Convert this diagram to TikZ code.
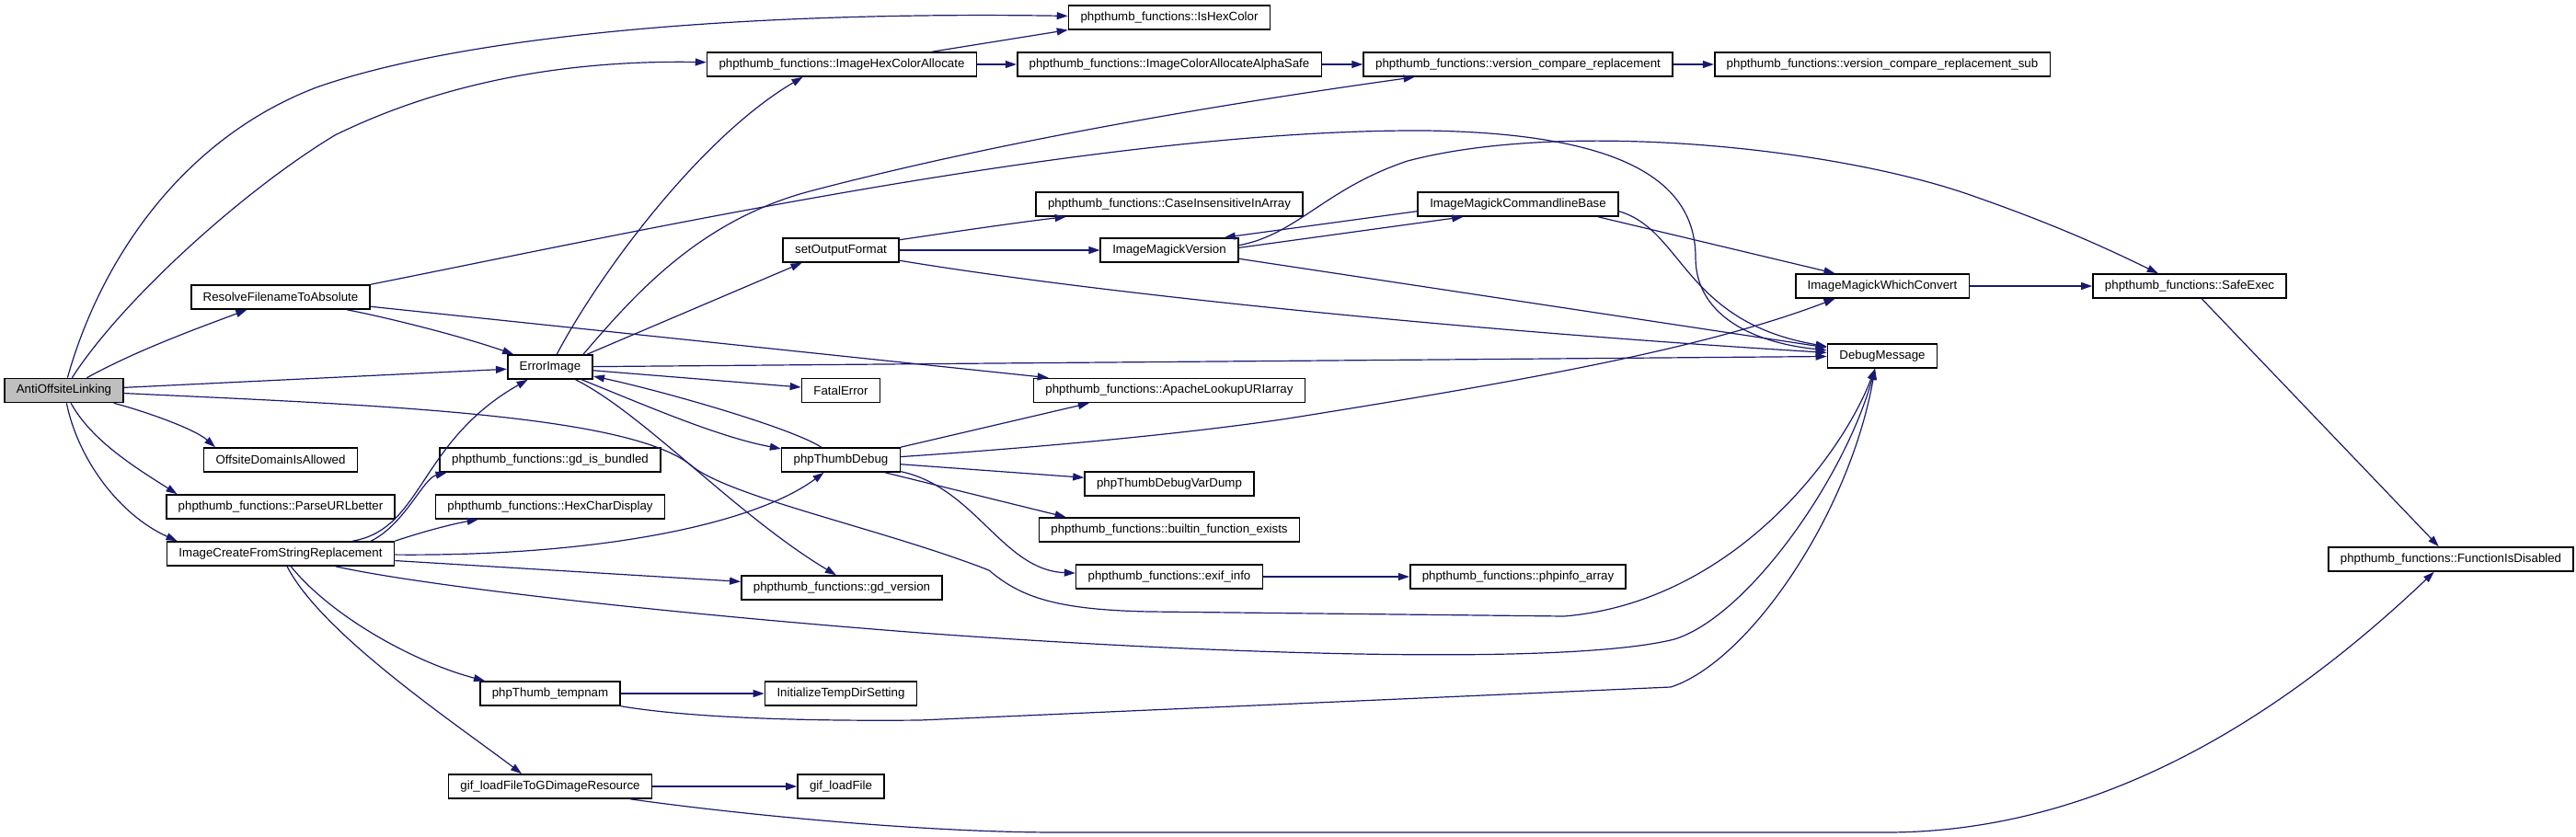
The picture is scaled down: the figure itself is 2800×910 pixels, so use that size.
\documentclass[tikz,border=0pt]{standalone}
\usepackage{fontspec}
\setmainfont{Liberation Sans}
\usepackage{tikz}
\usetikzlibrary{arrows.meta}
\definecolor{edgeblue}{HTML}{191970}
\definecolor{rootgray}{HTML}{BFBFBF}
\newcommand{\fnfont}{\fontsize{6.65pt}{8pt}\selectfont}
\tikzset{
  fn/.style   = {draw=black, line width=0.8pt, rectangle, fill=white,
                 minimum height=13pt, inner xsep=6.5pt, inner ysep=0pt, font=\fnfont},
  root/.style = {fn, fill=rootgray},
  call/.style = {-{Triangle[length=6pt,width=4pt]}, line width=0.6pt, draw=edgeblue, fill=none},
}
\begin{document}
\begin{tikzpicture}[x=0.5pt,y=-0.5pt]
\useasboundingbox (0,0) rectangle (2800,910);
% functions, one column per call depth
\node[root] (aol) at (69.5,424.5) {AntiOffsiteLinking};
\node[fn] (rfa) at (305,323) {ResolveFilenameToAbsolute};
\node[fn] (oda) at (305,500) {OffsiteDomainIsAllowed};
\node[fn] (pub) at (305,551) {phpthumb\_functions::ParseURLbetter};
\node[fn] (icf) at (305,602) {ImageCreateFromStringReplacement};
\node[fn] (err) at (598,399) {ErrorImage};
\node[fn] (gib) at (598,500) {phpthumb\_functions::gd\_is\_bundled};
\node[fn] (hcd) at (598,551) {phpthumb\_functions::HexCharDisplay};
\node[fn] (tmp) at (598,754) {phpThumb\_tempnam};
\node[fn] (gif) at (598,855) {gif\_loadFileToGDimageResource};
\node[fn] (hca) at (915,70) {phpthumb\_functions::ImageHexColorAllocate};
\node[fn] (sof) at (914,272) {setOutputFormat};
\node[fn] (fat) at (914,424.5) {FatalError};
\node[fn] (ptd) at (914,500) {phpThumbDebug};
\node[fn] (gdv) at (915,639) {phpthumb\_functions::gd\_version};
\node[fn] (itd) at (914,754) {InitializeTempDirSetting};
\node[fn] (glf) at (914,855) {gif\_loadFile};
\node[fn] (ihc) at (1271,19) {phpthumb\_functions::IsHexColor};
\node[fn] (cas) at (1271,70) {phpthumb\_functions::ImageColorAllocateAlphaSafe};
\node[fn] (cia) at (1271,222) {phpthumb\_functions::CaseInsensitiveInArray};
\node[fn] (imv) at (1271,272) {ImageMagickVersion};
\node[fn] (alu) at (1271,424.5) {phpthumb\_functions::ApacheLookupURIarray};
\node[fn] (vdd) at (1271,526) {phpThumbDebugVarDump};
\node[fn] (bfe) at (1271,576) {phpthumb\_functions::builtin\_function\_exists};
\node[fn] (exi) at (1271,627) {phpthumb\_functions::exif\_info};
\node[fn] (vcr) at (1650,70) {phpthumb\_functions::version\_compare\_replacement};
\node[fn] (clb) at (1650,222) {ImageMagickCommandlineBase};
\node[fn] (pia) at (1650,627) {phpthumb\_functions::phpinfo\_array};
\node[fn] (vcs) at (2046,70) {phpthumb\_functions::version\_compare\_replacement\_sub};
\node[fn] (wcv) at (2046,311) {ImageMagickWhichConvert};
\node[fn] (dbg) at (2046,387) {DebugMessage};
\node[fn] (sfe) at (2380,311) {phpthumb\_functions::SafeExec};
\node[fn] (fid) at (2664,608) {phpthumb\_functions::FunctionIsDisabled};
% calls from AntiOffsiteLinking
\draw[call] (aol) .. controls (110,280) and (200,150) .. (344,95) .. controls (500,40) and (800,12) .. (ihc);
\draw[call] (aol) .. controls (130,330) and (260,210) .. (364,147) .. controls (470,95) and (600,65) .. (hca);
\draw[call] (aol) .. controls (150,380) and (220,355) .. (rfa);
\draw[call] (aol) -- (err);
\draw[call] (aol) .. controls (400,440) and (680,450) .. (750,505) .. controls (790,540) and (960,575) .. (1075,620)
  .. controls (1110,650) and (1150,663) .. (1250,665) -- (1700,670) .. controls (1880,655) and (2000,500) .. (dbg.240);
\draw[call] (aol) .. controls (150,445) and (210,465) .. (oda.169);
\draw[call] (aol) .. controls (100,480) and (150,510) .. (pub.173);
\draw[call] (aol) .. controls (85,500) and (130,560) .. (icf.173);
% ResolveFilenameToAbsolute
\draw[call] (rfa) .. controls (420,345) and (500,365) .. (err);
\draw[call] (rfa) -- (alu);
\draw[call] (rfa.north east) .. controls (700,250) and (1200,140) .. (1550,142) .. controls (1750,145) and (1843,190) .. (1843,280)
  .. controls (1843,340) and (1900,372) .. (dbg);
% ErrorImage
\draw[call] (err) .. controls (650,300) and (760,150) .. (hca.198);
\draw[call] (err.19) -- (sof.198);
\draw[call] (err) -- (fat);
\draw[call] (err) -- (dbg);
\draw[call] (err) .. controls (700,440) and (780,475) .. (ptd);
\draw[call] (err) .. controls (700,450) and (800,560) .. (gdv.114);
\draw[call] (err.21) .. controls (690,320) and (760,240) .. (880,208) .. controls (1100,150) and (1350,110) .. (vcr.187);
\draw[call] (ptd) .. controls (860,465) and (720,425) .. (err);
% ImageCreateFromStringReplacement
\draw[call] (icf.10) .. controls (460,575) and (455,480) .. (err);
\draw[call] (icf.8) .. controls (440,570) and (460,520) .. (gib.187);
\draw[call] (icf.north east) .. controls (460,578) and (490,570) .. (hcd.190);
\draw[call] (icf) .. controls (650,605) and (820,570) .. (ptd);
\draw[call] (icf) -- (gdv);
\draw[call] (icf.-13) .. controls (450,635) and (700,665) .. (1000,688) .. controls (1300,710) and (1700,725) .. (1820,695)
  .. controls (1900,670) and (2005,520) .. (dbg.240);
\draw[call] (icf) .. controls (360,670) and (450,720) .. (tmp.169);
\draw[call] (icf) .. controls (350,690) and (500,790) .. (gif.156);
\draw[call] (tmp) -- (itd);
\draw[call] (tmp.south east) .. controls (760,782) and (900,784) .. (1000,783) -- (1816,747) .. controls (1900,720) and (2010,560) .. (dbg.240);
\draw[call] (gif) -- (glf);
\draw[call] (gif.-9) .. controls (800,885) and (1000,905) .. (1150,905) -- (2050,905) .. controls (2300,905) and (2500,760) .. (fid.217);
% colour helpers
\draw[call] (hca.8) -- (ihc.187);
\draw[call] (hca) -- (cas);
\draw[call] (cas) -- (vcr);
\draw[call] (vcr) -- (vcs);
% output format and ImageMagick
\draw[call] (sof.10) .. controls (1050,250) and (1120,240) .. (cia.187);
\draw[call] (sof) -- (imv);
\draw[call] (sof.-10) .. controls (1200,320) and (1600,360) .. (dbg);
\draw[call] (imv.2) -- (clb.193);
\draw[call] (clb.184) -- (imv.13);
\draw[call] (imv.-7) -- (dbg);
\draw[call] (imv.4) .. controls (1410,255) and (1440,205) .. (1530,175) .. controls (1700,130) and (2000,160) .. (2150,215)
  .. controls (2250,250) and (2310,280) .. (sfe.158);
\draw[call] (clb.-9.5) -- (wcv.165);
\draw[call] (clb.-4) .. controls (1830,250) and (1830,350) .. (dbg);
\draw[call] (wcv) -- (sfe);
\draw[call] (sfe) -- (fid);
% phpThumbDebug
\draw[call] (ptd.12) -- (alu.189);
\draw[call] (ptd.3) .. controls (1150,485) and (1300,470) .. (1400,455) .. controls (1650,415) and (1850,380) .. (wcv.195);
\draw[call] (ptd) -- (vdd);
\draw[call] (ptd.-16) -- (bfe.173);
\draw[call] (ptd.-11) .. controls (1060,530) and (1090,620) .. (exi);
\draw[call] (exi) -- (pia);
\end{tikzpicture}
\end{document}
